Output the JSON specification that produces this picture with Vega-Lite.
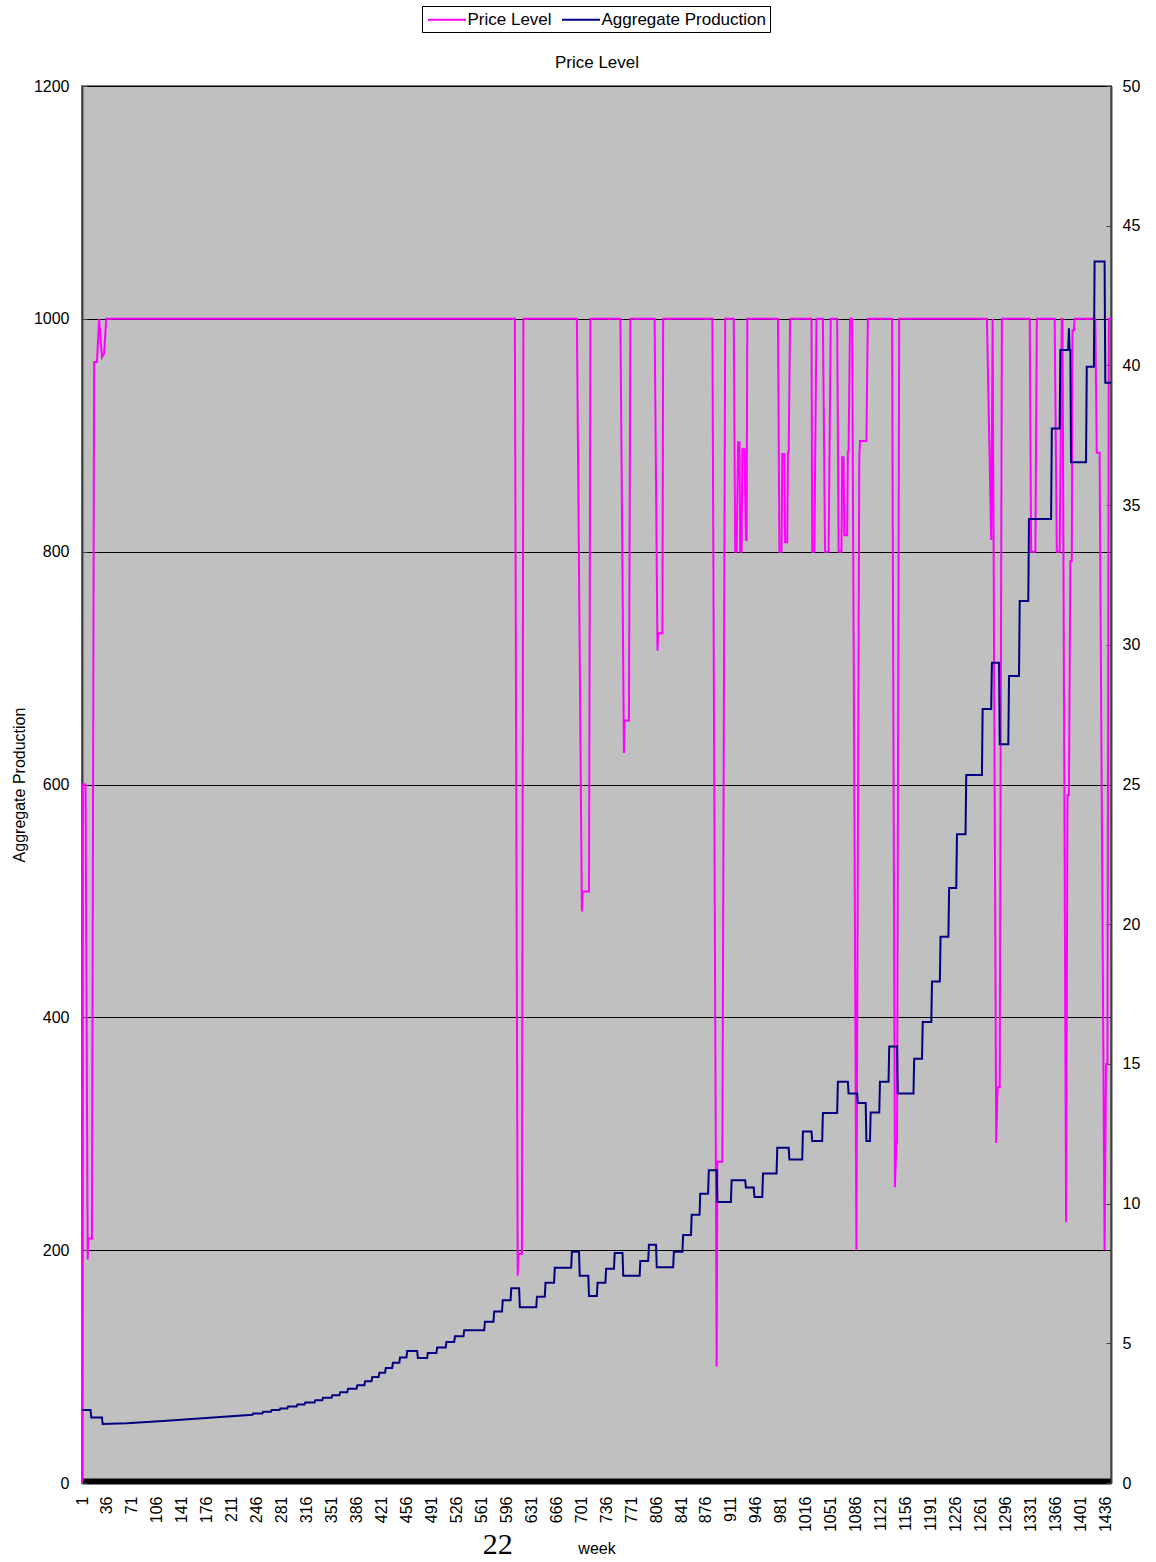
{
  "$schema": "https://vega.github.io/schema/vega-lite/v6.json",
  "width": 1029,
  "height": 1397,
  "autosize": {"type": "none"},
  "padding": {"left": 82, "top": 86, "right": 45, "bottom": 79},
  "background": "white",
  "config": {
    "font": "Liberation Sans",
    "view": {"fill": "#C0C0C0", "stroke": "#808080", "strokeWidth": 2},
    "axis": {"labelFont": "Liberation Sans", "labelFontSize": 16, "labelColor": "black", "titleFont": "Liberation Sans", "titleFontSize": 16, "titleFontWeight": "normal", "titleColor": "black"},
    "legend": {"labelFont": "Liberation Sans", "labelFontSize": 17, "labelColor": "black", "labelLimit": 0}
  },
  "datasets": {
    "price": [
      {"week":1,"v":0},{"week":2,"v":600},{"week":6,"v":600},{"week":9,"v":192},{"week":10,"v":210},{"week":15,"v":210},{"week":18,"v":963},{"week":22,"v":963},{"week":25,"v":1000},{"week":29,"v":967},{"week":32,"v":970},{"week":35,"v":1000},
      {"week":608,"v":1000},{"week":612,"v":178},{"week":613,"v":197},{"week":618,"v":197},{"week":620,"v":1000},
      {"week":695,"v":1000},{"week":702,"v":491},{"week":703,"v":508},{"week":712,"v":508},{"week":714,"v":1000},
      {"week":756,"v":1000},{"week":761,"v":627},{"week":762,"v":655},{"week":768,"v":655},{"week":770,"v":1000},
      {"week":804,"v":1000},{"week":808,"v":715},{"week":809,"v":730},{"week":815,"v":730},{"week":816,"v":1000},
      {"week":885,"v":1000},{"week":891,"v":100},{"week":892,"v":276},{"week":899,"v":276},{"week":903,"v":1000},
      {"week":915,"v":1000},{"week":917,"v":800},{"week":919,"v":800},{"week":921,"v":894},{"week":923,"v":894},{"week":924,"v":800},{"week":926,"v":800},{"week":927,"v":888},{"week":930,"v":888},{"week":932,"v":810},{"week":933,"v":810},{"week":934,"v":1000},
      {"week":977,"v":1000},{"week":979,"v":800},{"week":982,"v":800},{"week":983,"v":884},{"week":986,"v":884},{"week":987,"v":808},{"week":990,"v":808},{"week":991,"v":885},{"week":992,"v":885},{"week":994,"v":1000},
      {"week":1024,"v":1000},{"week":1025,"v":800},{"week":1028,"v":800},{"week":1031,"v":1000},
      {"week":1040,"v":1000},{"week":1043,"v":800},{"week":1048,"v":800},{"week":1051,"v":1000},
      {"week":1060,"v":1000},{"week":1062,"v":800},{"week":1066,"v":800},{"week":1067,"v":881},{"week":1069,"v":881},{"week":1070,"v":814},{"week":1074,"v":814},{"week":1075,"v":886},{"week":1076,"v":886},{"week":1078,"v":1000},
      {"week":1081,"v":1000},{"week":1087,"v":200},{"week":1091,"v":880},{"week":1092,"v":895},{"week":1101,"v":895},{"week":1103,"v":1000},
      {"week":1137,"v":1000},{"week":1141,"v":254},{"week":1143,"v":292},{"week":1144,"v":292},{"week":1147,"v":1000},
      {"week":1270,"v":1000},{"week":1276,"v":810},{"week":1278,"v":1000},{"week":1283,"v":292},{"week":1285,"v":340},{"week":1288,"v":340},{"week":1291,"v":1000},
      {"week":1330,"v":1000},{"week":1332,"v":800},{"week":1338,"v":800},{"week":1340,"v":1000},
      {"week":1365,"v":1000},{"week":1368,"v":800},{"week":1372,"v":800},{"week":1375,"v":1000},{"week":1376,"v":1000},{"week":1381,"v":224},{"week":1383,"v":591},{"week":1385,"v":591},{"week":1387,"v":792},{"week":1389,"v":792},{"week":1390,"v":990},{"week":1392,"v":990},{"week":1393,"v":1000},
      {"week":1422,"v":1000},{"week":1424,"v":885},{"week":1428,"v":885},{"week":1435,"v":200},{"week":1437,"v":360},{"week":1439,"v":360},{"week":1441,"v":1000},{"week":1444,"v":1000}
    ],
    "prod": [
      {"week":1,"v":2.61},{"week":13,"v":2.61},{"week":14,"v":2.34},{"week":29,"v":2.34},{"week":30,"v":2.11},{"week":64,"v":2.14},{"week":120,"v":2.23},{"week":190,"v":2.35},{"week":240,"v":2.44},
      {"week":241,"v":2.49},{"week":254,"v":2.49},{"week":255,"v":2.55},{"week":266,"v":2.55},{"week":267,"v":2.61},{"week":278,"v":2.61},{"week":279,"v":2.67},{"week":289,"v":2.67},{"week":290,"v":2.74},{"week":302,"v":2.74},{"week":303,"v":2.81},{"week":313,"v":2.81},{"week":314,"v":2.88},{"week":327,"v":2.88},{"week":328,"v":2.96},{"week":338,"v":2.96},{"week":339,"v":3.05},{"week":351,"v":3.05},{"week":352,"v":3.14},{"week":362,"v":3.14},{"week":363,"v":3.25},{"week":373,"v":3.25},{"week":374,"v":3.37},{"week":386,"v":3.37},{"week":387,"v":3.5},{"week":397,"v":3.5},{"week":398,"v":3.64},{"week":407,"v":3.64},{"week":408,"v":3.79},{"week":417,"v":3.79},{"week":418,"v":3.95},{"week":426,"v":3.95},{"week":427,"v":4.12},{"week":436,"v":4.12},{"week":437,"v":4.3},{"week":446,"v":4.3},{"week":447,"v":4.49},{"week":456,"v":4.49},{"week":457,"v":4.72},{"week":471,"v":4.72},{"week":472,"v":4.47},{"week":485,"v":4.47},{"week":486,"v":4.65},{"week":498,"v":4.65},{"week":499,"v":4.85},{"week":511,"v":4.85},{"week":512,"v":5.05},{"week":523,"v":5.05},{"week":524,"v":5.25},{"week":536,"v":5.25},{"week":537,"v":5.47},
      {"week":565,"v":5.47},{"week":566,"v":5.77},{"week":578,"v":5.77},{"week":579,"v":6.14},{"week":590,"v":6.14},{"week":591,"v":6.54},{"week":602,"v":6.54},{"week":603,"v":6.97},{"week":614,"v":6.97},{"week":615,"v":6.29},{"week":638,"v":6.29},{"week":639,"v":6.67},{"week":650,"v":6.67},{"week":651,"v":7.17},{"week":663,"v":7.17},{"week":664,"v":7.7},{"week":687,"v":7.7},{"week":688,"v":8.28},{"week":698,"v":8.28},{"week":699,"v":7.42},{"week":711,"v":7.42},{"week":712,"v":6.69},{"week":723,"v":6.69},{"week":724,"v":7.17},{"week":735,"v":7.17},{"week":736,"v":7.67},{"week":747,"v":7.67},{"week":748,"v":8.23},{"week":759,"v":8.23},{"week":760,"v":7.42},{"week":783,"v":7.42},{"week":784,"v":7.95},{"week":795,"v":7.95},{"week":796,"v":8.53},{"week":806,"v":8.53},{"week":807,"v":7.72},{"week":830,"v":7.72},{"week":831,"v":8.28},{"week":843,"v":8.28},{"week":844,"v":8.88},{"week":855,"v":8.88},{"week":856,"v":9.6},{"week":867,"v":9.6},{"week":868,"v":10.35},{"week":879,"v":10.35},{"week":880,"v":11.19},{"week":891,"v":11.19},{"week":892,"v":10.06},{"week":911,"v":10.06},{"week":912,"v":10.84},{"week":931,"v":10.84},{"week":932,"v":10.58},{"week":943,"v":10.58},{"week":944,"v":10.24},{"week":955,"v":10.24},{"week":956,"v":11.08},{"week":975,"v":11.08},{"week":976,"v":12.0},{"week":992,"v":12.0},{"week":993,"v":11.58},{"week":1011,"v":11.58},{"week":1012,"v":12.58},{"week":1024,"v":12.58},{"week":1025,"v":12.24},{"week":1039,"v":12.24},{"week":1040,"v":13.24},{"week":1060,"v":13.24},{"week":1061,"v":14.36},{"week":1075,"v":14.36},{"week":1076,"v":13.94},{"week":1088,"v":13.94},{"week":1089,"v":13.6},{"week":1100,"v":13.6},{"week":1101,"v":12.24},{"week":1106,"v":12.24},{"week":1107,"v":13.26},{"week":1119,"v":13.26},{"week":1120,"v":14.36},{"week":1132,"v":14.36},{"week":1133,"v":15.62},{"week":1144,"v":15.62},{"week":1145,"v":13.94},{"week":1167,"v":13.94},{"week":1168,"v":15.18},{"week":1179,"v":15.18},{"week":1180,"v":16.5},{"week":1192,"v":16.5},{"week":1193,"v":17.95},{"week":1204,"v":17.95},{"week":1205,"v":19.55},{"week":1216,"v":19.55},{"week":1217,"v":21.3},{"week":1227,"v":21.3},{"week":1228,"v":23.22},{"week":1240,"v":23.22},{"week":1241,"v":25.34},{"week":1263,"v":25.34},{"week":1264,"v":27.7},{"week":1276,"v":27.7},{"week":1277,"v":29.36},{"week":1287,"v":29.36},{"week":1288,"v":26.44},{"week":1300,"v":26.44},{"week":1301,"v":28.88},{"week":1315,"v":28.88},{"week":1316,"v":31.57},{"week":1328,"v":31.57},{"week":1329,"v":34.5},{"week":1360,"v":34.5},{"week":1361,"v":37.74},{"week":1372,"v":37.74},{"week":1373,"v":40.55},{"week":1384,"v":40.55},{"week":1385,"v":41.33},{"week":1386,"v":40.55},{"week":1387,"v":40.55},{"week":1388,"v":36.53},{"week":1409,"v":36.53},{"week":1410,"v":39.95},{"week":1420,"v":39.95},{"week":1421,"v":43.72},{"week":1435,"v":43.72},{"week":1436,"v":39.38},{"week":1444,"v":39.38}
    ]
  },
  "layer": [
    {
      "layer": [
        {
          "data": {"name": "price"},
          "mark": {"type": "line", "strokeWidth": 2},
          "encoding": {
            "x": {
              "field": "week", "type": "quantitative",
              "scale": {"domain": [1, 1444], "nice": false, "zero": false},
              "axis": {
                "orient": "bottom", "format": "d",
                "values": [1,36,71,106,141,176,211,246,281,316,351,386,421,456,491,526,561,596,631,666,701,736,771,806,841,876,911,946,981,1016,1051,1086,1121,1156,1191,1226,1261,1296,1331,1366,1401,1436],
                "labelAngle": -90, "labelAlign": "right", "labelBaseline": "middle",
                "labelPadding": 15, "labelOverlap": false, "labelFlush": false,
                "ticks": false, "grid": false, "offset": -2,
                "domainColor": "black", "domainWidth": 6, "domainCap": "butt",
                "title": "week", "titlePadding": 9
              }
            },
            "y": {
              "field": "v", "type": "quantitative",
              "scale": {"domain": [0, 1200], "nice": false, "zero": true},
              "axis": {
                "orient": "left", "format": "d", "values": [0,200,400,600,800,1000,1200],
                "grid": true, "gridColor": "black", "gridWidth": 1,
                "tickSize": -5, "tickColor": "#404040", "tickWidth": 1,
                "labelPadding": 18,
                "domainColor": "#404040", "domainWidth": 2,
                "title": "Aggregate Production", "titlePadding": 6
              }
            },
            "color": {
              "datum": "Price Level",
              "scale": {"domain": ["Price Level", "Aggregate Production"], "range": ["#FF00FF", "#000080"]},
              "legend": {
                "orient": "none", "legendX": 340, "legendY": -80,
                "direction": "horizontal", "title": null,
                "symbolType": "M-2.235,0H2.235", "symbolStrokeWidth": 2, "symbolSize": 289, "symbolOffset": 11.5,
                "labelOffset": 11, "columnPadding": 6,
                "strokeColor": "black", "fillColor": "white", "padding": 4
              }
            }
          }
        },
        {
          "data": {"values": [{"t": "22"}]},
          "mark": {"type": "text", "font": "Liberation Serif", "fontSize": 30, "align": "center", "baseline": "alphabetic", "color": "black"},
          "encoding": {
            "x": {
              "datum": 584, "type": "quantitative",
              "scale": {"domain": [1, 1444], "nice": false, "zero": false},
              "axis": {
                "orient": "bottom", "format": "d",
                "values": [1,36,71,106,141,176,211,246,281,316,351,386,421,456,491,526,561,596,631,666,701,736,771,806,841,876,911,946,981,1016,1051,1086,1121,1156,1191,1226,1261,1296,1331,1366,1401,1436],
                "labelAngle": -90, "labelAlign": "right", "labelBaseline": "middle",
                "labelPadding": 15, "labelOverlap": false, "labelFlush": false,
                "ticks": false, "grid": false, "offset": -2,
                "domainColor": "black", "domainWidth": 6, "domainCap": "butt",
                "title": "week", "titlePadding": 9
              }
            },
            "y": {
              "datum": -61, "type": "quantitative",
              "scale": {"domain": [0, 1200], "nice": false, "zero": true},
              "axis": {
                "orient": "left", "format": "d", "values": [0,200,400,600,800,1000,1200],
                "grid": true, "gridColor": "black", "gridWidth": 1,
                "tickSize": -5, "tickColor": "#404040", "tickWidth": 1,
                "labelPadding": 18,
                "domainColor": "#404040", "domainWidth": 2,
                "title": "Aggregate Production", "titlePadding": 6
              }
            },
            "text": {"field": "t"}
          }
        }
      ]
    },
    {
      "data": {"name": "prod"},
      "mark": {"type": "line", "strokeWidth": 2},
      "encoding": {
        "x": {
          "field": "week", "type": "quantitative",
          "scale": {"domain": [1, 1444], "nice": false, "zero": false},
          "axis": {"orient": "top", "labels": false, "ticks": false, "grid": false, "domain": false, "title": "Price Level", "titleFontSize": 17, "titlePadding": 15}
        },
        "y": {
          "field": "v", "type": "quantitative",
          "scale": {"domain": [0, 50], "nice": false, "zero": true},
          "axis": {
            "orient": "right", "values": [0,5,10,15,20,25,30,35,40,45,50],
            "grid": false, "tickSize": -5, "tickColor": "#404040", "tickWidth": 1,
            "labelPadding": 16,
            "domainColor": "#404040", "domainWidth": 2,
            "title": null
          }
        },
        "color": {"datum": "Aggregate Production"}
      }
    }
  ],
  "resolve": {"scale": {"y": "independent"}, "axis": {"x": "independent"}}
}
